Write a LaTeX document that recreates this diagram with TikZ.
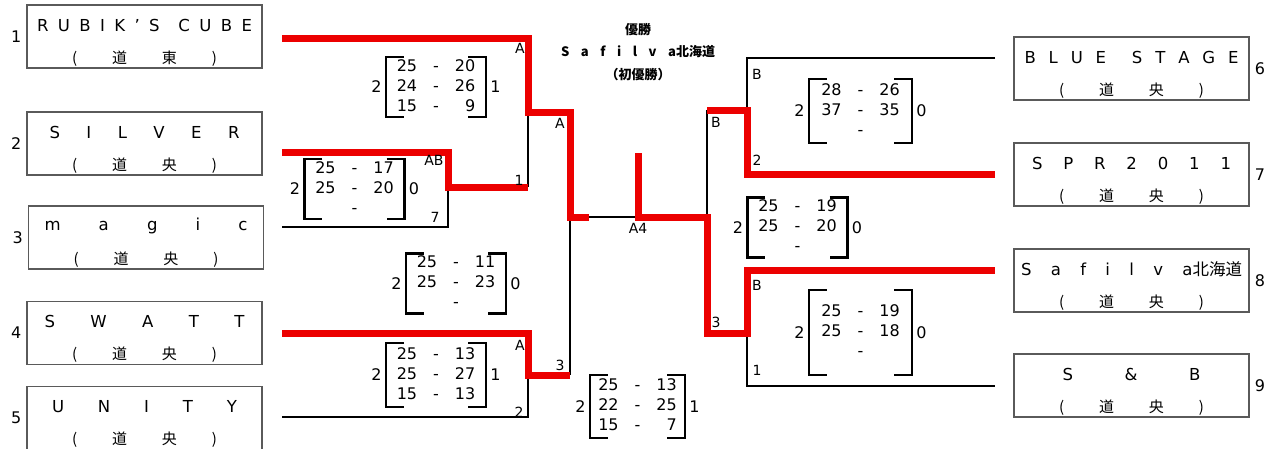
\documentclass[tikz,border=0pt]{standalone}
\usepackage{fontspec}
\setmainfont{DejaVu Sans}
\newfontfamily\cjk{Noto Sans CJK JP}
\usepackage{tikz}
\usetikzlibrary{positioning}
\definecolor{winred}{RGB}{236,0,0}
\definecolor{boxgray}{RGB}{90,90,90}
\tikzstyle{winner} = [line width=7pt, color=winred]
\tikzstyle{loser} = [line width=2.5pt, color=black]
\tikzstyle{teambox} = [rectangle, draw=boxgray, line width=1.2pt, minimum width=235pt, minimum height=63pt, inner sep=0pt]
\tikzstyle{teamtext} = [inner sep=0pt, font=\fontsize{16.5pt}{18pt}\selectfont]
\tikzstyle{areatext} = [inner sep=0pt, font=\cjk\fontsize{15pt}{18pt}\selectfont]
\tikzstyle{seedno} = [inner sep=1pt, font=\fontsize{16pt}{18pt}\selectfont]
\tikzstyle{seat} = [inner sep=0pt, font=\fontsize{14pt}{16pt}\selectfont]
\tikzstyle{tally} = [inner sep=0pt, font=\fontsize{16pt}{18pt}\selectfont]
\tikzstyle{title} = [inner sep=0pt, font=\cjk\bfseries\fontsize{13pt}{14pt}\selectfont]
\tikzstyle{scoretab} = [rectangle, inner sep=0pt, minimum width=100pt, minimum height=58pt, font=\fontsize{16pt}{20pt}\selectfont]
\tikzstyle{bracket} = [line width=2.5pt]

% team box with name and region
\newcommand{\team}[5]{%
  \node[teambox] (#1) at (#2) {};
  \node[teamtext] (#1name) at ([yshift=-21pt]#1.north) {\makebox[#3][s]{#4}};
  \node[areatext] (#1area) at ([yshift=-54pt]#1.north) {\makebox[145pt][s]{( 道 #5 )}};
}
% set scores between brackets
\newcommand{\scorecard}[6][]{%
  \node[scoretab,#1] (#2) at (#3) {\begin{tabular}{@{}r@{\hspace{16pt}}c@{\hspace{16pt}}r@{}}#4\end{tabular}};
  \draw[bracket] ([xshift=18pt]#2.north west) -- (#2.north west) -- (#2.south west) -- ([xshift=18pt]#2.south west);
  \draw[bracket] ([xshift=-18pt]#2.north east) -- (#2.north east) -- (#2.south east) -- ([xshift=-18pt]#2.south east);
  \node[tally, left=4pt of #2] (#2l) {#5};
  \node[tally, right=4pt of #2] (#2r) {#6};
}

\begin{document}
\begin{tikzpicture}[x=1pt,y=-1pt]
\useasboundingbox (0,0) rectangle (1278,448);

% teams
\team{t1}{144.5,36.5}{215pt}{R U B I K ' S\ \ C U B E}{東}
\team{t2}{144.5,143.5}{190pt}{S I L V E R}{央}
\team{t3}{146,237.5}{203pt}{m a g i c}{央}
\team{t4}{144.5,333}{200pt}{S W A T T}{央}
\team{t5}{144.5,418}{185pt}{U N I T Y}{央}
\team{t6}{1131.5,68.5}{214pt}{B L U E\ \ S T A G E}{央}
\team{t7}{1131.5,174.5}{199pt}{S P R 2 0 1 1}{央}
\team{t8}{1131.5,280.5}{221pt}{S a f i l v a{\cjk 北海道}}{央}
\team{t9}{1131.5,385.5}{138pt}{S \& B}{央}
\node[seedno, left=4pt of t1] (s1) {1};
\node[seedno, left=4pt of t2] (s2) {2};
\node[seedno, left=4pt of t3] (s3) {3};
\node[seedno, left=4pt of t4] (s4) {4};
\node[seedno, left=4pt of t5] (s5) {5};
\node[seedno, right=4pt of t6] (s6) {6};
\node[seedno, right=4pt of t7] (s7) {7};
\node[seedno, right=4pt of t8] (s8) {8};
\node[seedno, right=4pt of t9] (s9) {9};

% champion
\node[title] (champ) at (638,30) {優勝};
\node[title] (champname) at (638,52) {\makebox[154pt][s]{S a f i l v a北海道}};
\node[title] (champnote) at (638,75) {（初優勝）};

% bracket lines
\draw[loser] (282,227) -| (448,187);
\draw[loser] (528,112) -- (528,187);
\draw[loser] (282,417) -| (528,375);
\draw[loser] (570,217) -- (570,375);
\draw[loser] (570,217) -- (707,217);
\draw[loser] (995,58) -| (747,110);
\draw[loser] (707,110) -- (707,217);
\draw[loser] (747,333) |- (995,386);
\draw[winner] (282,38) -| (528,112) -| (570,217) -- (589,217);
\draw[winner] (282,152) -| (448,187) -- (528,187);
\draw[winner] (282,333) -| (528,375) -- (570,375);
\draw[winner] (995,174) -| (747,110) -- (707,110);
\draw[winner] (638,153) |- (707,217) |- (747,333) |- (995,270);

% court and order labels
\foreach \t/\x/\y [count=\i] in {A/520/48, A/560/123, 1/519/180, AB/434/160, 7/435/217, A/520/345, 3/560/365, 2/519/412, A4/638/228, B/757/74, B/716/122, 2/757/160, B/757/285, 3/716/322, 1/757/370}
  \node[seat] (seat\i) at (\x,\y) {\t};

% scores
\scorecard[minimum height=57pt]{m1}{436,87}{25 & - & 20\\ 24 & - & 26\\ 15 & - & 9}{2}{1}
\scorecard{m2}{354.5,189}{25 & - & 17\\ 25 & - & 20\\ & - &}{2}{0}
\scorecard{m3}{456,283.5}{25 & - & 11\\ 25 & - & 23\\ & - &}{2}{0}
\scorecard[minimum height=64pt]{m4}{436,375}{25 & - & 13\\ 25 & - & 27\\ 15 & - & 13}{2}{1}
\scorecard[minimum width=95pt, minimum height=63pt]{m5}{637.5,406.5}{25 & - & 13\\ 22 & - & 25\\ 15 & - & 7}{2}{1}
\scorecard[minimum width=103pt, minimum height=64pt]{m6}{860.5,111}{28 & - & 26\\ 37 & - & 35\\ & - &}{2}{0}
\scorecard{m7}{797.5,227.5}{25 & - & 19\\ 25 & - & 20\\ & - &}{2}{0}
\scorecard[minimum width=103pt, minimum height=85pt]{m8}{860.5,332.5}{25 & - & 19\\ 25 & - & 18\\ & - &}{2}{0}
\end{tikzpicture}
\end{document}
